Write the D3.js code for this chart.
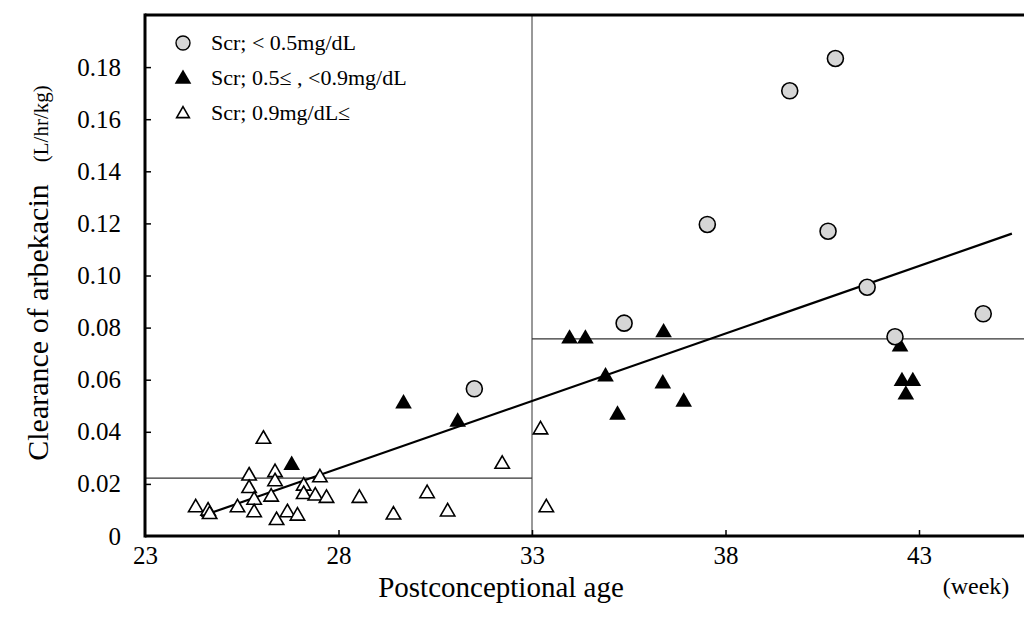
<!DOCTYPE html>
<html>
<head>
<meta charset="utf-8">
<script src="https://cdn.jsdelivr.net/npm/d3@7/dist/d3.min.js"></script>
<style>
  body { margin:0; background:#fff; }
  svg { display:block; }
  svg text { font-family:"Liberation Serif","DejaVu Serif",serif; fill:#000; }
</style>
</head>
<body>
<div id="w"></div>
<script>
// Scr < 0.5 mg/dL (grey circles)
var ageLow = [31.51, 35.38, 37.53, 39.66, 40.84, 40.65, 41.66, 42.38, 44.66]
var clLow  = [0.0565, 0.0817, 0.1196, 0.1709, 0.1833, 0.1170, 0.0955, 0.0765, 0.0853]

// 0.5 <= Scr < 0.9 (filled triangles)
var ageMid = [26.79, 29.68, 31.08, 33.97, 34.38, 36.40, 34.90, 35.21, 36.38, 36.92, 42.51, 42.56, 42.84, 42.66]
var clMid  = [0.0272, 0.0508, 0.0438, 0.0757, 0.0757, 0.0781, 0.0612, 0.0465, 0.0585, 0.0515, 0.0727, 0.0594, 0.0594, 0.0542]

// Scr >= 0.9 (open triangles)
var ageHigh = [24.31, 24.63, 24.67, 25.39, 26.06, 25.69, 25.69, 25.82, 25.82, 26.36, 26.36, 26.26, 26.40, 26.68,
               26.94, 27.10, 27.10, 27.40, 27.52, 27.69, 28.54, 29.42, 30.29, 30.82, 32.23, 33.22, 33.37]
var clHigh  = [0.0109, 0.0096, 0.0083, 0.0109, 0.0372, 0.0231, 0.0183, 0.0138, 0.0090, 0.0244, 0.0209, 0.0150, 0.0060, 0.0090,
               0.0077, 0.0192, 0.0160, 0.0154, 0.0224, 0.0145, 0.0145, 0.0081, 0.0163, 0.0093, 0.0276, 0.0408, 0.0109]

var xTicks = [23, 28, 33, 38, 43]
var yTicks = [0, 0.02, 0.04, 0.06, 0.08, 0.10, 0.12, 0.14, 0.16, 0.18]

var cutAge = 33
var meanBefore = 0.0222   // mean below 33 weeks
var meanAfter = 0.0757    // mean from 33 weeks
var regSlope = 0.00518, regIntercept = -0.1191
var regFrom = 24.45, regTo = 45.4

var W = 1024, H = 628
var svg = d3.select("#w").append("svg").attr("width", W).attr("height", H)

var x = d3.scaleLinear().domain([23, 43]).range([145, 919])
var y = d3.scaleLinear().domain([0, 0.2]).range([536, 15])
var xEnd = 1030

// thin reference lines
svg.append("line").attr("x1", x(cutAge)).attr("x2", x(cutAge)).attr("y1", y(0.2)).attr("y2", y(0))
  .attr("stroke", "#333").attr("stroke-width", 1)
svg.append("line").attr("x1", x(23)).attr("x2", x(cutAge)).attr("y1", y(meanBefore)).attr("y2", y(meanBefore))
  .attr("stroke", "#333").attr("stroke-width", 1.2)
svg.append("line").attr("x1", x(cutAge)).attr("x2", xEnd).attr("y1", y(meanAfter)).attr("y2", y(meanAfter))
  .attr("stroke", "#333").attr("stroke-width", 1.2)

// regression line
svg.append("line")
  .attr("x1", x(regFrom)).attr("y1", y(regIntercept + regSlope * regFrom))
  .attr("x2", x(regTo)).attr("y2", y(regIntercept + regSlope * regTo))
  .attr("stroke", "#000").attr("stroke-width", 2.2)

// axes
var yAxis = d3.axisLeft(y).tickValues(yTicks).tickSize(-6).tickPadding(24)
  .tickFormat(function(d){ return d === 0 ? "0" : d3.format(".2f")(d) })
var gy = svg.append("g").attr("transform", "translate(" + x(23) + ",0)").call(yAxis)
var xAxis = d3.axisBottom(x).tickValues(xTicks).tickSize(-6).tickPadding(10)
var gx = svg.append("g").attr("transform", "translate(0," + y(0) + ")").call(xAxis)
;[gx, gy].forEach(function(g){
  g.attr("font-family", null).attr("font-size", 25)
  g.select(".domain").remove()
  g.selectAll(".tick line").attr("stroke", "#000").attr("stroke-width", 1.5)
  g.selectAll(".tick text").attr("fill", "#000")
})
gy.selectAll(".tick").filter(function(d){ return d === 0 }).select("line").remove()
gx.selectAll(".tick").filter(function(d){ return d === 23 }).select("line").remove()

// frame
svg.append("line").attr("x1", x(23)).attr("x2", x(23)).attr("y1", y(0.2) - 1.5).attr("y2", y(0) + 1.5)
  .attr("stroke", "#000").attr("stroke-width", 3)
svg.append("line").attr("x1", x(23)).attr("x2", xEnd).attr("y1", y(0)).attr("y2", y(0))
  .attr("stroke", "#000").attr("stroke-width", 3)
svg.append("line").attr("x1", x(23)).attr("x2", xEnd).attr("y1", y(0.2)).attr("y2", y(0.2))
  .attr("stroke", "#000").attr("stroke-width", 3)

// points
var triOpen = d3.symbol().type(d3.symbolTriangle).size(90)
var triFill = d3.symbol().type(d3.symbolTriangle).size(120)

svg.append("g").selectAll("path").data(d3.range(ageHigh.length)).join("path")
  .attr("d", triOpen)
  .attr("transform", function(i){ return "translate(" + x(ageHigh[i]) + "," + y(clHigh[i]) + ")" })
  .attr("fill", "#fff").attr("stroke", "#000").attr("stroke-width", 1.6)

svg.append("g").selectAll("path").data(d3.range(ageMid.length)).join("path")
  .attr("d", triFill)
  .attr("transform", function(i){ return "translate(" + x(ageMid[i]) + "," + y(clMid[i]) + ")" })
  .attr("fill", "#000")

svg.append("g").selectAll("circle").data(d3.range(ageLow.length)).join("circle")
  .attr("cx", function(i){ return x(ageLow[i]) })
  .attr("cy", function(i){ return y(clLow[i]) })
  .attr("r", 8)
  .attr("fill", "#d6d6d6").attr("stroke", "#000").attr("stroke-width", 1.6)

// legend
var leg = svg.append("g")
leg.append("circle").attr("cx", 183).attr("cy", 43).attr("r", 7)
  .attr("fill", "#d6d6d6").attr("stroke", "#000").attr("stroke-width", 1.4)
leg.append("path").attr("d", triFill).attr("transform", "translate(183,79)").attr("fill", "#000")
leg.append("path").attr("d", d3.symbol().type(d3.symbolTriangle).size(70))
  .attr("transform", "translate(183,114)").attr("fill", "#fff").attr("stroke", "#000").attr("stroke-width", 1.6)
var legText = ["Scr; < 0.5mg/dL", "Scr; 0.5\u2264 , <0.9mg/dL", "Scr; 0.9mg/dL\u2264"]
leg.selectAll("text").data(legText).join("text")
  .attr("x", 211).attr("y", function(d, i){ return 50 + i * 35 })
  .attr("font-size", 22).text(function(d){ return d })

// axis titles
svg.append("text").attr("x", 501).attr("y", 597).attr("text-anchor", "middle")
  .attr("font-size", 29).text("Postconceptional age")
svg.append("text").attr("x", 976).attr("y", 594).attr("text-anchor", "middle")
  .attr("font-size", 24).text("(week)")
var yt = svg.append("text").attr("transform", "translate(48,273) rotate(-90)").attr("text-anchor", "middle")
yt.append("tspan").attr("font-size", 30).text("Clearance of arbekacin")
yt.append("tspan").attr("font-size", 21).attr("dx", 22).text("(L/hr/kg)")
</script>
</body>
</html>
